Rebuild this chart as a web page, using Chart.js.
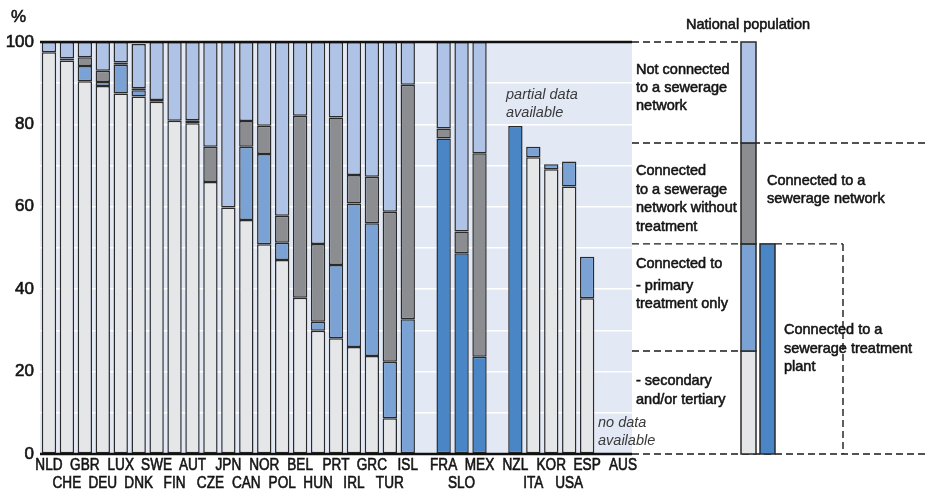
<!DOCTYPE html>
<html>
<head>
<meta charset="utf-8">
<script src="https://cdn.jsdelivr.net/npm/chart.js@4/dist/chart.umd.min.js"></script>
<style>
  html, body { margin: 0; padding: 0; background: #fff; }
  canvas { display: block; }
</style>
</head>
<body>
<canvas id="chart" width="926" height="492"></canvas>
<script>
// Population connected to public waste water treatment (% of national population)
// '' entries are the empty slots between the country groups
const countries = ['NLD', 'CHE', 'GBR', 'DEU', 'LUX', 'DNK', 'SWE', 'FIN', 'AUT', 'CZE', 'JPN',
    'CAN', 'NOR', 'POL', 'BEL', 'HUN', 'PRT', 'IRL', 'GRC', 'TUR', 'ISL', '',
    'FRA', 'SLO', 'MEX', '', 'NZL', 'ITA', 'KOR', 'USA', 'ESP', '', 'AUS'];

// labels printed on the second row under the axis
const lowerRow = ['CHE', 'DEU', 'DNK', 'FIN', 'CZE', 'CAN', 'POL', 'HUN', 'IRL', 'TUR', 'SLO', 'ITA', 'USA'];

const secondary = [97.5, 95.5, 90.5, 89.3, 87.5, 86.8, 85.5, 80.9, 80.3, 66, 59.8,
    56.8, 50.9, 47.1, 37.9, 29.9, 28.1, 26, 23.8, 8.7, null, null,
    null, null, null, null, null, 72, 69.1, 64.9, 37.8, null, null];
const treatmentPlant = [null, null, null, null, null, null, null, null, null, null, null,
    null, null, null, null, null, null, null, null, null, null, null,
    76.6, 48.7, 23.6, null, 79.6, null, null, null, null, null, null];
const primary = [null, null, 3.7, 1, 7, 1.5, null, null, null, null, null,
    17.8, 21.9, 4.2, null, 2.2, 17.8, 34.8, 32.2, 13.7, 32.7, null,
    null, null, null, null, null, 2.6, 1.2, 6.1, 10.1, null, null];
const noTreatment = [null, 0.5, 2.1, 2.7, 0.5, 0.5, 0.4, null, 0.7, 8.6, null,
    6.2, 6.9, 6.5, 44.2, 18.9, 35.8, 6.9, 11.3, 36.4, 56.9, null,
    2.4, 5.3, 49.4, null, null, null, null, null, null, null, null];
const notConnected = [2.5, 4, 3.7, 7, 5, 10.7, 14.1, 19.1, 19, 25.4, 40.2,
    19.2, 20.3, 42.2, 17.9, 49, 18.3, 32.3, 32.7, 41.2, 10.4, null,
    21, 46, 27, null, null, null, null, null, null, null, null];

// bands of the "national population" key bar, bottom to top
const keyBands = [25, 26, 24.5, 24.5];
const keyPlant = 51;

const FONT = "'Liberation Sans', Arial, sans-serif";
const C_SEC = '#e5e6e8', C_PRIM = '#7aa2d5', C_NONE = '#8b8d90', C_NOT = '#afc3e6', C_PLANT = '#4a85c6';
const BG = '#e2e8f4', EDGE = '#2a2a2a', INK = '#141414';

function dashed(ctx, x1, y1, x2, y2) {
    ctx.beginPath();
    ctx.moveTo(x1, y1);
    ctx.lineTo(x2, y2);
    ctx.stroke();
}

// slightly heavier text than the regular face, like the original's medium weight
function heavy(ctx, t, x, y, squeeze) {
    ctx.save();
    ctx.translate(x, y);
    ctx.scale(squeeze || 1, 1);
    ctx.fillText(t, 0, 0);
    ctx.strokeText(t, 0, 0);
    ctx.restore();
}

function textLines(ctx, lines, x, ys) {
    lines.forEach((t, i) => heavy(ctx, t, x, ys[i]));
}

const decor = {
    id: 'decor',
    beforeDraw(chart) {
        const { ctx, chartArea: a } = chart;
        ctx.save();
        ctx.fillStyle = BG;
        ctx.fillRect(a.left, a.top, a.right - a.left, a.bottom - a.top);
        ctx.restore();
    },
    afterDatasetsDraw(chart) {
        const { ctx, chartArea: a, scales: { y } } = chart;
        ctx.save();
        ctx.strokeStyle = '#111';
        ctx.lineWidth = 2.5;
        [0, 100].forEach(v => dashed(ctx, a.left, y.getPixelForValue(v), a.right, y.getPixelForValue(v)));
        ctx.restore();
    },
    afterDraw(chart) {
        const { ctx, chartArea: a, scales: { x, y } } = chart;
        const py = v => y.getPixelForValue(v);
        ctx.save();

        // country labels, two staggered rows
        ctx.fillStyle = INK;
        ctx.strokeStyle = INK;
        ctx.lineWidth = 0.6;
        ctx.textBaseline = 'middle';
        ctx.textAlign = 'center';
        ctx.font = '16px ' + FONT;
        countries.forEach((c, i) => {
            if (!c) return;
            heavy(ctx, c, x.getPixelForValue(i), lowerRow.includes(c) ? a.bottom + 30 : a.bottom + 12, 0.85);
        });

        // dashed guide lines of the key
        ctx.strokeStyle = '#1a1a1a';
        ctx.lineWidth = 1.4;
        ctx.setLineDash([7, 4]);
        let acc = 0;
        const cuts = keyBands.map(b => (acc += b));
        dashed(ctx, a.right, py(0), 926, py(0));
        dashed(ctx, a.right, py(cuts[0]), 741, py(cuts[0]));
        dashed(ctx, a.right, py(cuts[1]), 741, py(cuts[1]));
        dashed(ctx, 775, py(keyPlant), 843, py(keyPlant));
        dashed(ctx, 843, py(keyPlant), 843, py(0));
        dashed(ctx, a.right, py(cuts[2]), 926, py(cuts[2]));
        dashed(ctx, a.right, py(100), 741, py(100));
        ctx.setLineDash([]);

        // key bars
        ctx.strokeStyle = EDGE;
        ctx.lineWidth = 1.5;
        const cols = [C_SEC, C_PRIM, C_NONE, C_NOT];
        let base = 0;
        keyBands.forEach((b, i) => {
            const top = py(base + b), bot = py(base);
            ctx.fillStyle = cols[i];
            ctx.fillRect(741, top, 15, bot - top);
            ctx.strokeRect(741, top, 15, bot - top);
            base += b;
        });
        ctx.fillStyle = C_PLANT;
        ctx.fillRect(760, py(keyPlant), 15, py(0) - py(keyPlant));
        ctx.strokeRect(760, py(keyPlant), 15, py(0) - py(keyPlant));

        // key texts
        ctx.fillStyle = INK;
        ctx.strokeStyle = INK;
        ctx.lineWidth = 0.55;
        ctx.font = '14.5px ' + FONT;
        ctx.textAlign = 'center';
        heavy(ctx, 'National population', 748, 25);
        ctx.textAlign = 'left';
        textLines(ctx, ['Not connected', 'to a sewerage', 'network'], 636, [70, 88, 106]);
        textLines(ctx, ['Connected', 'to a sewerage', 'network without', 'treatment'], 636, [171, 190, 208, 227]);
        textLines(ctx, ['Connected to', '- primary', 'treatment only'], 636, [264, 286, 304]);
        textLines(ctx, ['- secondary', 'and/or tertiary'], 636, [381, 400]);
        textLines(ctx, ['Connected to a', 'sewerage network'], 767, [181, 199]);
        textLines(ctx, ['Connected to a', 'sewerage treatment', 'plant'], 784, [330, 349, 367]);

        // notes in the plot
        ctx.fillStyle = '#3a3a3a';
        ctx.font = 'italic 14.5px ' + FONT;
        ['partial data', 'available'].forEach((t, i) => ctx.fillText(t, 506, [95, 113][i]));
        ['no data', 'available'].forEach((t, i) => ctx.fillText(t, 598, [423, 441][i]));

        // unit
        ctx.fillStyle = INK;
        ctx.strokeStyle = INK;
        ctx.font = '17px ' + FONT;
        heavy(ctx, '%', 11, 17);
        ctx.restore();
    }
};

const seg = (label, data, color) => ({
    label, data, backgroundColor: color, borderColor: EDGE, borderWidth: 1.5,
    borderSkipped: false, barPercentage: 0.8, categoryPercentage: 1.0
});

new Chart(document.getElementById('chart').getContext('2d'), {
    type: 'bar',
    data: {
        labels: countries,
        datasets: [
            seg('Secondary and/or tertiary', secondary, C_SEC),
            seg('Connected to a sewerage treatment plant', treatmentPlant, C_PLANT),
            seg('Primary treatment only', primary, C_PRIM),
            seg('Connected without treatment', noTreatment, C_NONE),
            seg('Not connected', notConnected, C_NOT)
        ]
    },
    options: {
        responsive: false,
        animation: false,
        layout: { padding: { top: 42, right: 294, left: 0, bottom: 0 } },
        plugins: { legend: { display: false }, tooltip: { enabled: false } },
        scales: {
            x: {
                stacked: true,
                grid: { display: false, drawTicks: false },
                border: { display: false },
                afterFit: s => { s.height = 38; },
                ticks: { display: false }
            },
            y: {
                stacked: true, min: 0, max: 100,
                border: { display: false },
                afterFit: s => { s.width = 40; },
                grid: { color: '#ffffff', lineWidth: 1.5, drawTicks: false },
                ticks: {
                    stepSize: 10, padding: 6, color: INK,
                    textStrokeColor: INK, textStrokeWidth: 0.6,
                    font: { family: FONT, size: 17 },
                    callback: v => (v % 20 === 0 ? v : '')
                }
            }
        }
    },
    plugins: [decor]
});
</script>
</body>
</html>
